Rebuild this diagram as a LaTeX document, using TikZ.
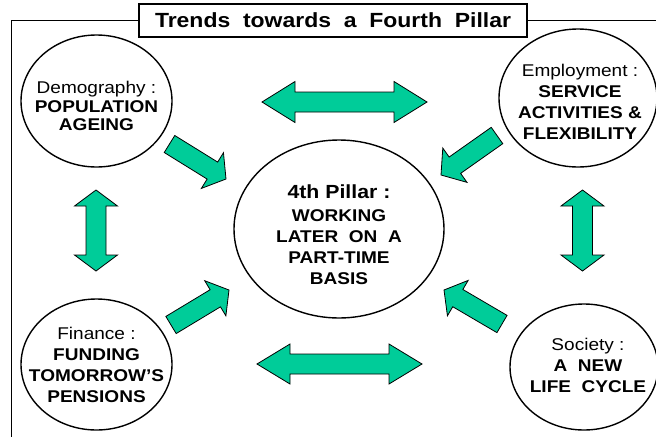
\documentclass[tikz,border=0pt]{standalone}
\usepackage{fontspec}
\setmainfont{Liberation Sans}[FakeStretch=1.12]
\usetikzlibrary{calc, shapes.geometric}
\definecolor{trendgreen}{RGB}{0,204,153}

\newcommand{\shafthalf}{10pt}
% block arrow from tail to tip: head length, half width of head
\newcommand{\onearrow}[4]{%
  \coordinate (neck) at ($(#2)!#3!(#1)$);
  \draw[blockarrow] ($(#1)!\shafthalf!90:(#2)$) -- ($(neck)!\shafthalf!90:(#2)$)
    -- ($(neck)!#4!90:(#2)$) -- (#2) -- ($(neck)!#4!-90:(#2)$)
    -- ($(neck)!\shafthalf!-90:(#2)$) -- ($(#1)!\shafthalf!-90:(#2)$) -- cycle;}
% block arrow with a head at both ends
\newcommand{\twoway}[4]{%
  \coordinate (necka) at ($(#1)!#3!(#2)$);
  \coordinate (neckb) at ($(#2)!#3!(#1)$);
  \draw[blockarrow] (#1) -- ($(necka)!#4!90:(#2)$) -- ($(necka)!\shafthalf!90:(#2)$)
    -- ($(neckb)!\shafthalf!-90:(#1)$) -- ($(neckb)!#4!-90:(#1)$) -- (#2)
    -- ($(neckb)!#4!90:(#1)$) -- ($(neckb)!\shafthalf!90:(#1)$)
    -- ($(necka)!\shafthalf!-90:(#2)$) -- ($(necka)!#4!-90:(#2)$) -- cycle;}

\begin{document}
\begin{tikzpicture}[x=1pt, y=-1pt,
    topic/.style={ellipse, draw, line width=1.4pt, inner sep=0pt},
    topictext/.style={align=center, inner sep=0pt, font=\fontsize{17}{21}\selectfont},
    blockarrow/.style={draw, fill=trendgreen, line width=0.8pt, line join=miter}]
    \clip (0,0) rectangle (656,437);

    % frame and title
    \node[draw, line width=1.4pt, minimum width=388, minimum height=33, inner sep=0pt,
        font=\bfseries\fontsize{20.5}{24}\selectfont] (title) at (333,20.5)
        {Trends~ towards~ a~ Fourth~ Pillar};
    \draw[line width=0.6pt] (title.west) -- (11,20.5) -- (11,437);
    \draw[line width=0.6pt] (title.east) -- (656,20.5);

    % ellipses
    \node[topic, minimum width=151, minimum height=132] (demo) at (96.5,101) {};
    \node[topic, minimum width=158, minimum height=138] (empl) at (578,98) {};
    \node[topic, minimum width=151, minimum height=131] (fin) at (96.5,364.5) {};
    \node[topic, minimum width=148, minimum height=126] (soc) at (584,367) {};
    \node[topic, minimum width=210, minimum height=178] (pillar) at (339,229) {};

    \node[topictext, yshift=-5, font=\fontsize{17}{18.5}\selectfont] (demotxt) at (demo)
        {Demography :\\ \textbf{POPULATION}\\ \textbf{AGEING}};
    \node[topictext, xshift=2, yshift=-4] (empltxt) at (empl)
        {Employment :\\ \textbf{SERVICE}\\ \textbf{ACTIVITIES \&}\\ \textbf{FLEXIBILITY}};
    \node[topictext] (fintxt) at (fin)
        {Finance :\\ \textbf{FUNDING}\\ \textbf{TOMORROW’S}\\ \textbf{PENSIONS}};
    \node[topictext, xshift=4, yshift=2] (soctxt) at (soc)
        {Society :\\ \textbf{A~ NEW}\\ \textbf{LIFE~ CYCLE}};
    \node[topictext, yshift=-5.5, font=\bfseries\fontsize{17}{21}\selectfont] (pillartxt) at (pillar)
        {{\fontsize{19}{21}\selectfont 4th Pillar :}\\[2pt] WORKING\\ LATER~ ON~ A\\ PART-TIME\\ BASIS};

    % arrow ends
    \coordinate (topa) at (262,102);   \coordinate (topb) at (427,102);
    \coordinate (bota) at (257,364);   \coordinate (botb) at (422,364);
    \coordinate (lefta) at (96,190);   \coordinate (leftb) at (96,271);
    \coordinate (righta) at (582.5,190); \coordinate (rightb) at (582.5,271);
    \coordinate (demotail) at (169.5,144); \coordinate (demotip) at (226,179);
    \coordinate (empltail) at (497,135.5); \coordinate (empltip) at (441,175);
    \coordinate (fintail) at (171,325);    \coordinate (fintip) at (229,290);
    \coordinate (soctail) at (502,324);    \coordinate (soctip) at (444,290);

    % two-way arrows
    \twoway{topa}{topb}{33pt}{20.5pt}
    \twoway{bota}{botb}{33pt}{20pt}
    \twoway{lefta}{leftb}{16pt}{21.5pt}
    \twoway{righta}{rightb}{16pt}{21.5pt}

    % arrows into the 4th pillar
    \onearrow{demotail}{demotip}{16pt}{21pt}
    \onearrow{empltail}{empltip}{17pt}{21pt}
    \onearrow{fintail}{fintip}{16pt}{20.5pt}
    \onearrow{soctail}{soctip}{16pt}{20.5pt}
\end{tikzpicture}
\end{document}
